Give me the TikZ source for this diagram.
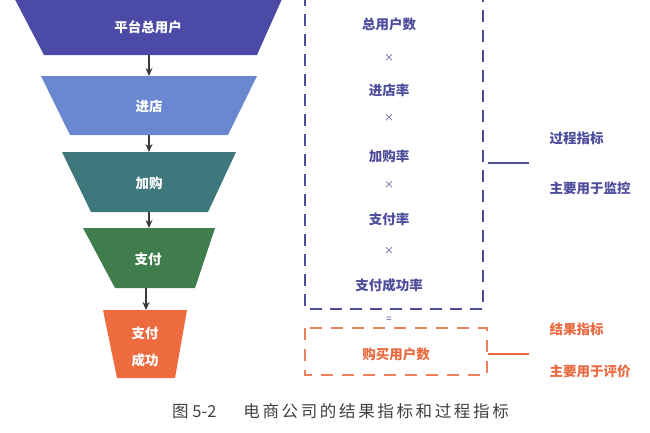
\documentclass[tikz,border=0pt]{standalone}
\usepackage{fontspec}
\setmainfont{Noto Sans CJK SC}
\usetikzlibrary{arrows.meta}
\definecolor{cA}{HTML}{4B4AA6}
\definecolor{cB}{HTML}{6B87D0}
\definecolor{cC}{HTML}{3E787C}
\definecolor{cD}{HTML}{3F7D4C}
\definecolor{cE}{HTML}{EE6B3F}
\definecolor{tblue}{HTML}{4D4D9C}
\definecolor{torange}{HTML}{EA6A40}
\definecolor{arr}{HTML}{3A3A3A}
\tikzset{
  fun/.style={font=\fontsize{13.5}{15}\selectfont\bfseries, text=white, align=center},
  lab/.style={font=\fontsize{13.5}{15}\selectfont\bfseries, text=tblue},
  olab/.style={font=\fontsize{13.5}{15}\selectfont\bfseries, text=torange},
  times/.style={font=\fontsize{10}{12}\selectfont, text=tblue},
  flow/.style={draw=arr, line width=1.2pt, -{Stealth[length=8pt,width=7pt]}},
  bluebox/.style={draw=tblue, line width=1.6pt, dash pattern=on 12pt off 8pt},
  orangebox/.style={draw=torange!85, line width=1.5pt, dash pattern=on 12pt off 9pt},
}
\begin{document}
\begin{tikzpicture}[x=1pt, y=-1pt]
\useasboundingbox (0,0) rectangle (650,432);
\clip (0,0) rectangle (650,432);
% funnel shapes
\fill[cA] (10,-10) -- (286,-10) -- (257,55) -- (44,55) -- cycle;
\fill[cB] (41,76) -- (257,76) -- (228,135) -- (70,135) -- cycle;
\fill[cC] (62,152) -- (236,152) -- (208,212) -- (91,212) -- cycle;
\fill[cD] (83,228) -- (215,228) -- (195,288) -- (115,288) -- cycle;
\fill[cE] (103,310) -- (187,310) -- (175,378) -- (117,378) -- cycle;
\node[fun] (f1) at (148,27) {平台总用户};
\node[fun] (f2) at (149,106) {进店};
\node[fun] (f3) at (149,183) {加购};
\node[fun] (f4) at (148,259) {支付};
\node[fun] (f5) at (145,347) {支付\\[12pt]成功};
\coordinate (b1) at (149,55); \coordinate (t2) at (149,76);
\coordinate (b2) at (149,135); \coordinate (t3) at (149,152);
\coordinate (b3) at (149,212); \coordinate (t4) at (149,228);
\coordinate (b4) at (146,288); \coordinate (t5) at (146,310);
\draw[flow] (b1) -- (t2);
\draw[flow] (b2) -- (t3);
\draw[flow] (b3) -- (t4);
\draw[flow] (b4) -- (t5);
% blue dashed box
\draw[bluebox] (305,-6) -- (305,309) -- (483,309) -- (483,-6);
\node[lab] (r1) at (389,24) {总用户数};
\node[times] (x1) at (389,58) {×};
\node[lab] (r2) at (389,90) {进店率};
\node[times] (x2) at (389,118) {×};
\node[lab] (r3) at (389,156) {加购率};
\node[times] (x3) at (389,185) {×};
\node[lab] (r4) at (389,219) {支付率};
\node[times] (x4) at (389,251) {×};
\node[lab] (r5) at (389,285) {支付成功率};
\node[times] (eq) at (389,320) {=};
% orange dashed box
\draw[orangebox] (305,328) rectangle (487,375);
\node[olab] (buy) at (396,354) {购买用户数};
% side labels
\coordinate (bl1) at (488,163); \coordinate (bl2) at (529,163);
\draw[tblue, line width=1.2pt] (bl1) -- (bl2);
\coordinate (ol1) at (488,354); \coordinate (ol2) at (529,354);
\draw[torange, line width=1.2pt] (ol1) -- (ol2);
\node[lab, anchor=west] (p1) at (546,138) {过程指标};
\node[lab, anchor=west] (p2) at (546,188) {主要用于监控};
\node[olab, anchor=west] (o1) at (546,329) {结果指标};
\node[olab, anchor=west] (o2) at (546,371) {主要用于评价};
% caption
\node[anchor=west, text=black!75, inner sep=0pt, font=\fontsize{16.5}{18}\selectfont] (cap) at (172,411) {图 5-2\hspace{27pt}{\addfontfeature{LetterSpace=16}电商公司的结果指标和过程指标}};
\end{tikzpicture}
\end{document}
